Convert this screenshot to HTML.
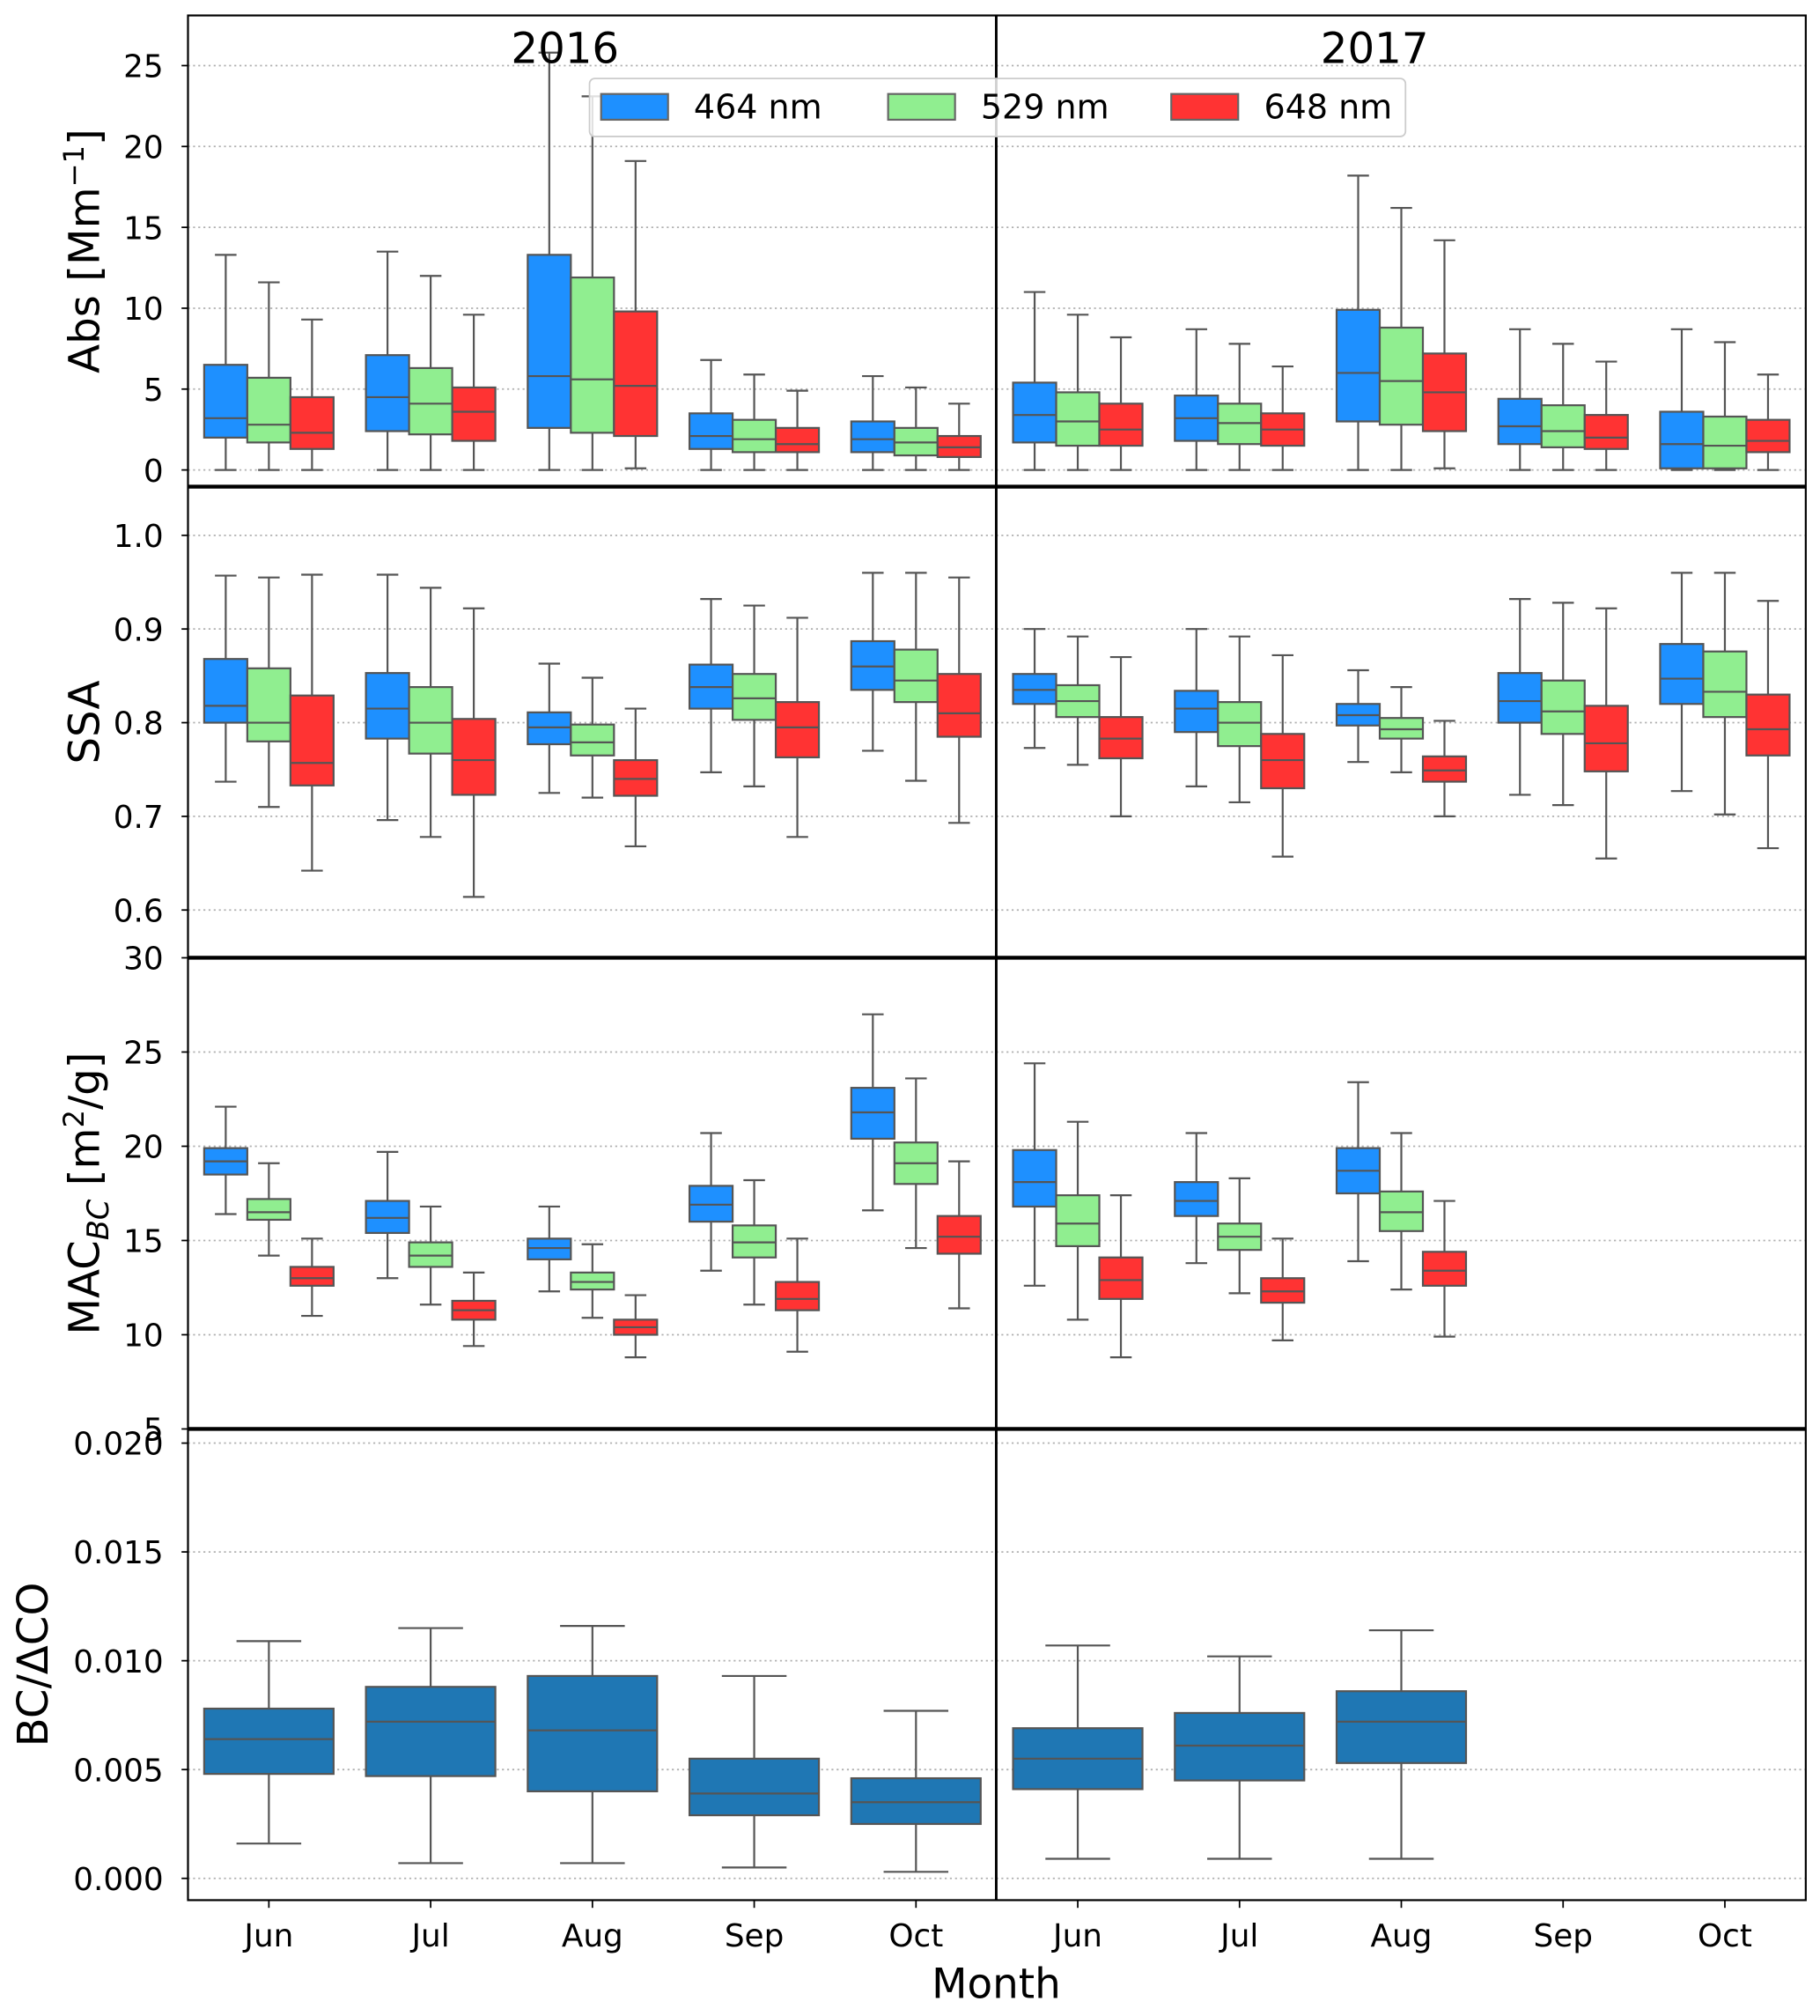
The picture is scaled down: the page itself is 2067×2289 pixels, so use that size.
<!DOCTYPE html>
<html><head><meta charset="utf-8"><style>
html,body{margin:0;padding:0;background:#fff;}
svg{display:block;font-family:"DejaVu Sans","Liberation Sans",sans-serif;}
</style></head><body>
<svg id="chart" width="2067" height="2289" viewBox="0 0 1414 1566" xmlns="http://www.w3.org/2000/svg"></svg>
<script>
const months = ["Jun","Jul","Aug","Sep","Oct","Jun","Jul","Aug","Sep","Oct"];
const wavelengths = ["464 nm","529 nm","648 nm"];
const absTicks = [0,5,10,15,20,25];
const ssaTicks = [0.6,0.7,0.8,0.9,1.0];
const macTicks = [5,10,15,20,25,30];
const bcTicks = [0,0.005,0.010,0.015,0.020];
// [whislo, q1, median, q3, whishi] per month (2016 Jun..Oct, 2017 Jun..Oct)
const abs464 = [[0,2.0,3.2,6.5,13.3],[0,2.4,4.5,7.1,13.5],[0,2.6,5.8,13.3,25.8],[0,1.3,2.1,3.5,6.8],[0,1.1,1.9,3.0,5.8],
  [0,1.7,3.4,5.4,11.0],[0,1.8,3.2,4.6,8.7],[0,3.0,6.0,9.9,18.2],[0,1.6,2.7,4.4,8.7],[0,0.1,1.6,3.6,8.7]];
const abs529 = [[0,1.7,2.8,5.7,11.6],[0,2.2,4.1,6.3,12.0],[0,2.3,5.6,11.9,23.1],[0,1.1,1.9,3.1,5.9],[0,0.9,1.7,2.6,5.1],
  [0,1.5,3.0,4.8,9.6],[0,1.6,2.9,4.1,7.8],[0,2.8,5.5,8.8,16.2],[0,1.4,2.4,4.0,7.8],[0,0.1,1.5,3.3,7.9]];
const abs648 = [[0,1.3,2.3,4.5,9.3],[0,1.8,3.6,5.1,9.6],[0.1,2.1,5.2,9.8,19.1],[0,1.1,1.6,2.6,4.9],[0,0.8,1.4,2.1,4.1],
  [0,1.5,2.5,4.1,8.2],[0,1.5,2.5,3.5,6.4],[0.1,2.4,4.8,7.2,14.2],[0,1.3,2.0,3.4,6.7],[0,1.1,1.8,3.1,5.9]];
const ssa464 = [[0.737,0.80,0.818,0.868,0.957],[0.696,0.783,0.815,0.853,0.958],[0.725,0.777,0.795,0.811,0.863],[0.747,0.815,0.838,0.862,0.932],[0.77,0.835,0.86,0.887,0.96],
  [0.773,0.82,0.835,0.852,0.90],[0.732,0.79,0.815,0.834,0.90],[0.758,0.797,0.808,0.82,0.856],[0.723,0.80,0.823,0.853,0.932],[0.727,0.82,0.847,0.884,0.96]];
const ssa529 = [[0.71,0.78,0.80,0.858,0.955],[0.678,0.767,0.80,0.838,0.944],[0.72,0.765,0.779,0.798,0.848],[0.732,0.803,0.826,0.852,0.925],[0.738,0.822,0.845,0.878,0.96],
  [0.755,0.806,0.823,0.84,0.892],[0.715,0.775,0.80,0.822,0.892],[0.747,0.783,0.793,0.805,0.838],[0.712,0.788,0.812,0.845,0.928],[0.702,0.806,0.833,0.876,0.96]];
const ssa648 = [[0.642,0.733,0.757,0.829,0.958],[0.614,0.723,0.76,0.804,0.922],[0.668,0.722,0.74,0.76,0.815],[0.678,0.763,0.795,0.822,0.912],[0.693,0.785,0.81,0.852,0.955],
  [0.70,0.762,0.783,0.806,0.87],[0.657,0.73,0.76,0.788,0.872],[0.70,0.737,0.749,0.764,0.802],[0.655,0.748,0.778,0.818,0.922],[0.666,0.765,0.793,0.83,0.93]];
const mac464 = [[16.4,18.5,19.2,19.9,22.1],[13.0,15.4,16.2,17.1,19.7],[12.3,14.0,14.6,15.1,16.8],[13.4,16.0,16.9,17.9,20.7],[16.6,20.4,21.8,23.1,27.0],
  [12.6,16.8,18.1,19.8,24.4],[13.8,16.3,17.1,18.1,20.7],[13.9,17.5,18.7,19.9,23.4],null,null];
const mac529 = [[14.2,16.1,16.5,17.2,19.1],[11.6,13.6,14.2,14.9,16.8],[10.9,12.4,12.8,13.3,14.8],[11.6,14.1,14.9,15.8,18.2],[14.6,18.0,19.1,20.2,23.6],
  [10.8,14.7,15.9,17.4,21.3],[12.2,14.5,15.2,15.9,18.3],[12.4,15.5,16.5,17.6,20.7],null,null];
const mac648 = [[11.0,12.6,13.0,13.6,15.1],[9.4,10.8,11.3,11.8,13.3],[8.8,10.0,10.4,10.8,12.1],[9.1,11.3,11.9,12.8,15.1],[11.4,14.3,15.2,16.3,19.2],
  [8.8,11.9,12.9,14.1,17.4],[9.7,11.7,12.3,13.0,15.1],[9.9,12.6,13.4,14.4,17.1],null,null];
const bcRatio = [[0.0016,0.0048,0.0064,0.0078,0.0109],[0.0007,0.0047,0.0072,0.0088,0.0115],[0.0007,0.0040,0.0068,0.0093,0.0116],[0.0005,0.0029,0.0039,0.0055,0.0093],[0.0003,0.0025,0.0035,0.0046,0.0077],
  [0.0009,0.0041,0.0055,0.0069,0.0107],[0.0009,0.0045,0.0061,0.0076,0.0102],[0.0009,0.0053,0.0072,0.0086,0.0114],null,null];

const NS="http://www.w3.org/2000/svg";
const svg=document.getElementById('chart');
function mk(tag,attrs,parent){const e=document.createElementNS(NS,tag);for(const k in attrs)e.setAttribute(k,attrs[k]);(parent||svg).appendChild(e);return e;}
const L=146,R=1403,MID=774;
const colW=(R-L)/10;
function xc(i){return L+colW*(i+0.5);}
function makeY(v0,v1,p0,p1){return v=>p0+(v-v0)*(p1-p0)/(v1-v0);}
const panels=[
 {name:"abs",top:12,bot:378,y:makeY(-1.03,28.1,378,12),ticks:absTicks,fmt:v=>String(v),series:[abs464,abs529,abs648]},
 {name:"ssa",top:378,bot:744,y:makeY(0.549,1.052,744,378),ticks:ssaTicks,fmt:v=>v.toFixed(1),series:[ssa464,ssa529,ssa648]},
 {name:"mac",top:744,bot:1110,y:makeY(5,30,1110,744),ticks:macTicks,fmt:v=>String(v),series:[mac464,mac529,mac648]},
 {name:"bc",top:1110,bot:1476,y:makeY(-0.001,0.02065,1476,1110),ticks:bcTicks,fmt:v=>v.toFixed(3),series:[bcRatio]}
];
const colors3=["#1e90ff","#90ee90","#ff3333"];
panels.forEach(p=>{
  const g=mk('g',{});
  
  
  p.ticks.forEach(t=>{
    const yy=p.y(t);
    const gl=mk('line',{x1:L,x2:R,y1:yy,y2:yy,stroke:'#b0b0b0','stroke-width':1.2,'stroke-dasharray':'1.5,2.5'},g);
    
    
    mk('line',{x1:L-5,x2:L,y1:yy,y2:yy,stroke:'#000','stroke-width':1.2},g);
    const tl=mk('text',{x:L-19,y:yy+9,'text-anchor':'end','font-size':24.5,fill:'#000'},g);
    tl.textContent=p.fmt(t);
    
    
  });
  const ns=p.series.length;
  const bw= ns===1 ? colW*0.8 : colW*0.8/3;
  p.series.forEach((ser,si)=>{
    ser.forEach((d,i)=>{
      if(!d)return;
      const cx= ns===1 ? xc(i) : xc(i)+(si-1)*bw;
      const fill= ns===1 ? '#1f77b4' : colors3[si];
      const bg=mk('g',{},g);
      
      
      const st='#555';
      mk('line',{x1:cx,x2:cx,y1:p.y(d[0]),y2:p.y(d[1]),stroke:st,'stroke-width':1.5},bg);
      mk('line',{x1:cx,x2:cx,y1:p.y(d[3]),y2:p.y(d[4]),stroke:st,'stroke-width':1.5},bg);
      mk('line',{x1:cx-bw/4,x2:cx+bw/4,y1:p.y(d[0]),y2:p.y(d[0]),stroke:st,'stroke-width':1.5},bg);
      mk('line',{x1:cx-bw/4,x2:cx+bw/4,y1:p.y(d[4]),y2:p.y(d[4]),stroke:st,'stroke-width':1.5},bg);
      mk('rect',{x:cx-bw/2,y:p.y(d[3]),width:bw,height:p.y(d[1])-p.y(d[3]),fill:fill,stroke:st,'stroke-width':1.5},bg);
      mk('line',{x1:cx-bw/2,x2:cx+bw/2,y1:p.y(d[2]),y2:p.y(d[2]),stroke:st,'stroke-width':1.5},bg);
    });
  });
});
// frame & dividers
mk('rect',{x:L,y:12,width:R-L,height:1476-12,fill:'none',stroke:'#000','stroke-width':1.5});
[378,744,1110].forEach(yy=>{const l=mk('line',{x1:L,x2:R,y1:yy,y2:yy,stroke:'#000','stroke-width':3});
  });
const vd=mk('line',{x1:MID,x2:MID,y1:12,y2:1476,stroke:'#000','stroke-width':2});

// x ticks
months.forEach((m,i)=>{
  mk('line',{x1:xc(i),x2:xc(i),y1:1476,y2:1482,stroke:'#000','stroke-width':1.2});
  const t=mk('text',{x:xc(i),y:1512,'text-anchor':'middle','font-size':24.5,fill:'#000'});
  t.textContent=m;
  
  
});
// legend
const lg=mk('g',{});


mk('rect',{x:458,y:61,width:634,height:45,rx:4,fill:'#fff','fill-opacity':0.82,stroke:'#ccc','stroke-width':1.2},lg);
const lx=[467,690,910];
wavelengths.forEach((w,k)=>{
  const e=mk('g',{},lg);
  
  
  mk('rect',{x:lx[k],y:73,width:52,height:20,fill:colors3[k],stroke:'#666','stroke-width':1.5},e);
  const t=mk('text',{x:lx[k]+72,y:92,'font-size':26,fill:'#000'},e);
  t.textContent=w;
});
</script>
<script>
(function(){
const svg=document.getElementById('chart');
const NS="http://www.w3.org/2000/svg";
function txt(s,attrs,name){const t=document.createElementNS(NS,'text');for(const k in attrs)t.setAttribute(k,attrs[k]);t.innerHTML=s;svg.appendChild(t);
  
  return t;}
txt('2016',{x:439,y:49,'text-anchor':'middle','font-size':33},'title-2016');
txt('2017',{x:1068,y:49,'text-anchor':'middle','font-size':33},'title-2017');
txt('Abs [Mm<tspan dy="-12" font-size="22">−1</tspan><tspan dy="12">]</tspan>',{transform:'translate(77,195) rotate(-90)','text-anchor':'middle','font-size':33},'y-axis-title-abs');
txt('SSA',{transform:'translate(77,561) rotate(-90)','text-anchor':'middle','font-size':33},'y-axis-title-ssa');
txt('MAC<tspan dy="7" font-size="23" font-style="italic">BC</tspan><tspan dy="-7"> [m</tspan><tspan dy="-12" font-size="22">2</tspan><tspan dy="12">/g]</tspan>',{transform:'translate(77,927) rotate(-90)','text-anchor':'middle','font-size':33},'y-axis-title-mac');
txt('BC/ΔCO',{transform:'translate(37,1293) rotate(-90)','text-anchor':'middle','font-size':33},'y-axis-title-bc');
txt('Month',{x:774,y:1552,'text-anchor':'middle','font-size':32},'x-axis-title');
})();
</script>
</body></html>
